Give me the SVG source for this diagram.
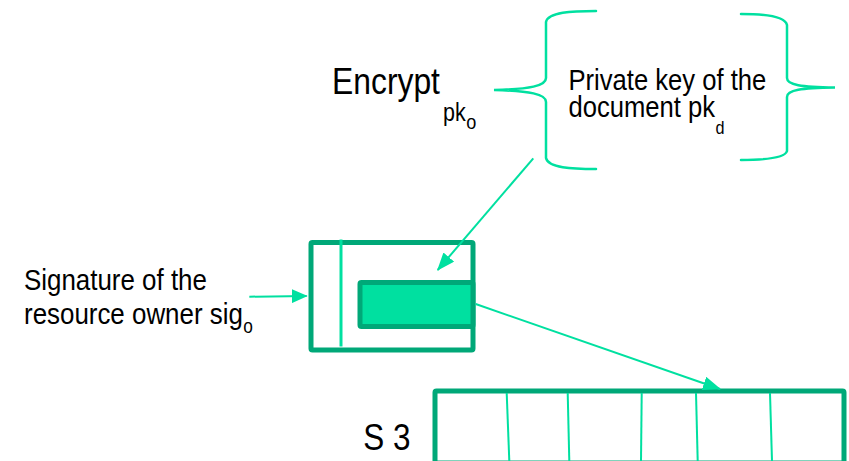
<svg xmlns="http://www.w3.org/2000/svg" width="849" height="461" viewBox="0 0 849 461">
  <style>
    .txt { font-family: "Liberation Sans", Arial, sans-serif; fill: #000; }
    .light { stroke: #00E0A0; fill: none; }
    .dark { stroke: #00A878; stroke-width: 5; stroke-linejoin: round; }
    .brace { stroke: #00E0A0; stroke-width: 2.5; fill: none; stroke-linecap: round; }
    .conn { stroke: #00E0A0; stroke-width: 2; fill: none; }
  </style>
  <defs>
    <marker id="arrow" viewBox="0 0 18 14" refX="17" refY="7" markerWidth="18" markerHeight="14" markerUnits="userSpaceOnUse" orient="auto">
      <path d="M0,0 L18,7 L0,14 Z" fill="#00E0A0"/>
    </marker>
    <marker id="arrowSmall" viewBox="0 0 16 14" refX="15" refY="7" markerWidth="16" markerHeight="14" markerUnits="userSpaceOnUse" orient="auto">
      <path d="M0,0 L16,7 L0,14 Z" fill="#00E0A0"/>
    </marker>
  </defs>

  <rect width="849" height="461" fill="#fff"/>

  <!-- Encryption label with subscript (narrow face: horizontal squeeze) -->
  <g id="encrypt">
    <text class="txt" transform="matrix(0.861,0,0,1,332,94)" font-size="37">Encrypt<tspan dx="3.5" y="27" font-size="25">pk</tspan><tspan dx="0.5" y="35" font-size="21">o</tspan></text>
  </g>

  <!-- Private key wrapped in braces -->
  <g id="private-key">
    <path class="brace" d="M596,11 C572,11 548,12 546,22 L546,78 C546,86 530,89 494,90 C530,91 546,94 546,102 L546,158 C548,168 572,169 596,169"/>
    <path class="brace" d="M741,14 C764,14 785,16 787,25 L787,78 C787,85 801,87 835,87.5 C801,88 787,90 787,97 L787,151 C785,158 764,160 741,160"/>
    <text class="txt" transform="matrix(0.854,0,0,1,568.5,89.5)" font-size="30">Private key of the<tspan x="0" y="28">document pk</tspan><tspan dx="0.5" y="44.5" font-size="19">d</tspan></text>
  </g>

  <!-- Signature label -->
  <g id="signature">
    <text class="txt" transform="matrix(0.864,0,0,1,24,290)" font-size="30">Signature of the<tspan x="0" y="34.5">resource owner sig</tspan><tspan dx="0.5" y="43" font-size="20">o</tspan></text>
  </g>

  <!-- Signed document block -->
  <g id="document">
    <rect class="dark" x="311" y="242.5" width="162" height="107.5" rx="1.5" fill="none"/>
    <line class="light" x1="341" y1="239.5" x2="341" y2="346.5" stroke-width="3"/>
    <rect class="dark" x="360" y="282.5" width="113" height="44" rx="1.5" fill="#00E0A0"/>
  </g>

  <!-- S 3 array -->
  <g id="s3">
    <text class="txt" transform="matrix(0.85,0,0,1,363.3,450)" font-size="37">S 3</text>
    <rect class="dark" x="435" y="391" width="409" height="72" rx="1.5" fill="none"/>
    <g class="light" stroke-width="2">
      <line x1="506.7" y1="393" x2="509.3" y2="461"/>
      <line x1="567.7" y1="393" x2="569.3" y2="461"/>
      <line x1="641.7" y1="393" x2="641" y2="461"/>
      <line x1="696" y1="393" x2="697.7" y2="461"/>
      <line x1="770" y1="393" x2="772" y2="461"/>
    </g>
  </g>

  <!-- Connectors -->
  <g id="connectors">
    <line class="conn" x1="533.3" y1="158.3" x2="437.7" y2="270" marker-end="url(#arrow)"/>
    <line class="conn" x1="249.3" y1="296.7" x2="306.7" y2="296" marker-end="url(#arrowSmall)"/>
    <line class="conn" x1="475.7" y1="304" x2="720" y2="389" marker-end="url(#arrow)"/>
  </g>
</svg>
